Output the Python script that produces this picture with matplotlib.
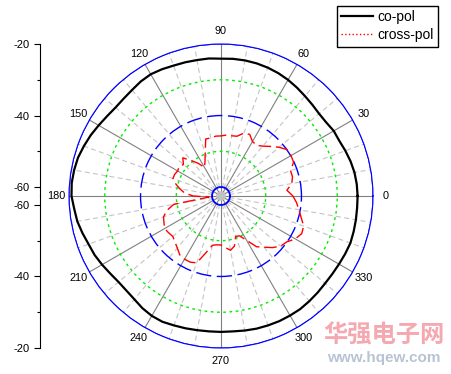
import numpy as np
import matplotlib.pyplot as plt
from matplotlib.lines import Line2D

plt.rcParams['font.family'] = ['Liberation Sans', 'DejaVu Sans']
plt.rcParams['axes.unicode_minus'] = False

# pattern data, every 5 degrees (dB)
angles_deg = np.arange(0, 360, 5)
co_pol = [-24.3, -24.4, -24.6, -25.0, -25.5, -26.0, -26.1, -26.6, -26.7, -26.4,
          -26.0, -25.5, -25.0, -24.6, -24.3, -24.1, -24.0, -24.0, -24.1, -23.9,
          -23.9, -23.8, -23.7, -23.4, -23.2, -23.4, -23.8, -24.0, -24.0, -23.6,
          -23.0, -22.3, -21.7, -21.1, -20.8, -20.6, -20.7, -21.3, -21.7, -22.4,
          -23.1, -23.5, -24.1, -24.7, -25.1, -25.1, -24.8, -24.2, -23.8, -23.7,
          -24.0, -24.2, -24.4, -24.5, -24.5, -24.5, -24.3, -24.1, -24.0, -23.9,
          -23.9, -23.9, -24.1, -24.3, -24.5, -24.5, -24.4, -24.2, -24.0, -24.1,
          -24.2, -24.3]
cross_pol = [-42.4, -44.0, -42.4, -41.8, -41.8, -40.1, -39.9, -39.9, -41.3, -42.9,
             -44.3, -45.2, -44.9, -43.5, -43.8, -45.2, -45.4, -45.4, -45.7, -45.7,
             -46.0, -46.0, -49.6, -51.9, -53.3, -51.3, -49.6, -47.4, -48.8, -48.2,
             -48.5, -48.2, -48.2, -49.4, -50.8, -52.2, -54.7, -59.1, -49.1, -46.8,
             -45.4, -44.9, -44.3, -44.6, -44.9, -44.3, -43.5, -42.4, -42.1, -42.1,
             -42.6, -46.0, -48.5, -48.8, -48.8, -48.0, -47.1, -48.0, -50.5, -50.2,
             -48.2, -45.2, -43.8, -42.1, -40.7, -40.1, -38.5, -37.6, -37.9, -39.3,
             -40.4, -41.3]

theta_major = list(range(0, 360, 30))
theta_labels = [str(a) for a in theta_major]
theta_minor = [a for a in range(0, 360, 10) if a % 30]
ring_levels = [-60, -50, -40, -30, -20]
scale_major = [-60, -40, -20]
scale_minor = [-50, -30]
r_center = -62.5

W, H = 451, 374
fig = plt.figure(figsize=(W / 100, H / 100), dpi=100)

cx, cy, R = 221, 196, 152
ax = fig.add_axes([(cx - R) / W, (H - cy - R) / H, 2 * R / W, 2 * R / H],
                  projection='polar')
ax.set_ylim(r_center, -20)

# angular grid / labels
ax.set_xticks(np.deg2rad(theta_major))
ax.set_xticklabels(theta_labels)
ax.set_xticks(np.deg2rad(theta_minor), minor=True)
ax.xaxis.grid(True, which='major', color='#808080', lw=0.8, ls='-')
ax.xaxis.grid(True, which='minor', color='#c4c4c4', lw=0.8, ls=(0, (4.5, 3)))
ax.tick_params(axis='x', which='major', direction='in', length=5, width=0.8,
               color='k', pad=2, labelsize=7.8)
ax.tick_params(axis='x', which='minor', direction='in', length=2.5, width=0.8,
               color='k')

# radial rings
ax.set_yticks(ring_levels)
ax.set_yticklabels([])
ax.tick_params(axis='y', length=0)
ax.yaxis.grid(True)
ring_styles = {
    -60: dict(color='#0000ff', lw=1.3, ls='-'),
    -50: dict(color='#00ee00', lw=1.0, ls=(0, (2, 2.5))),
    -40: dict(color='#0000ff', lw=1.0, ls=(0, (11, 4))),
    -30: dict(color='#00ee00', lw=1.0, ls=(0, (2, 2.5))),
    -20: dict(color='#0000ff', lw=0.8, ls='-'),
}
for tick, lev in zip(ax.yaxis.get_major_ticks(numticks=len(ring_levels)), ring_levels):
    tick.gridline.set(**ring_styles[lev])
ax.spines['polar'].set_color('#0000ff')
ax.spines['polar'].set_linewidth(0.8)

theta = np.deg2rad(np.append(angles_deg, 360))
ax.plot(theta, co_pol + co_pol[:1], color='k', lw=1.6)
ax.plot(theta, cross_pol + cross_pol[:1], color='#ff0000', lw=1.0, dashes=(9, 3.5))

# left linear scale (upper and lower halves)
x0 = 40
for bottom, lims in [((H - cy) / H, (r_center, -20)), ((H - cy - R) / H, (-20, r_center))]:
    sax = fig.add_axes([x0 / W, bottom, 5 / W, R / H])
    sax.patch.set_visible(False)
    for s in ['top', 'right', 'bottom']:
        sax.spines[s].set_visible(False)
    sax.spines['left'].set_linewidth(0.8)
    sax.set_xticks([])
    sax.set_ylim(*lims)
    sax.set_yticks(scale_major)
    sax.set_yticks(scale_minor, minor=True)
    sax.set_yticklabels([str(v) for v in scale_major])
    sax.tick_params(axis='y', which='major', length=4.3, width=0.8, labelsize=8)
    sax.tick_params(axis='y', which='minor', length=2.2, width=0.8)

# legend
handles = [Line2D([], [], color='k', lw=1.6),
           Line2D([], [], color='#ff0000', lw=1.0, ls=':')]
fig.legend(handles, ['co-pol', 'cross-pol'], loc='upper right',
           bbox_to_anchor=(438 / W, 1 - 6 / H), borderaxespad=0,
           fontsize=10, handlelength=2.3, handletextpad=0.3,
           borderpad=0.3, labelspacing=0.3, fancybox=False,
           edgecolor='k', framealpha=1)
fig.legends[0].get_frame().set_linewidth(1.0)

# watermark
fig.text(323 / W, 1 - 336 / H, '华强电子网', fontsize=17.5, color='#f5a8b0',
         family=['Noto Sans CJK SC', 'DejaVu Sans'], weight='bold', va='center')
fig.text(327 / W, 1 - 358 / H, 'www.hqew.com', fontsize=11, color='#b8c4d4',
         weight='bold', va='center')

fig.savefig('out.png', dpi=100)
